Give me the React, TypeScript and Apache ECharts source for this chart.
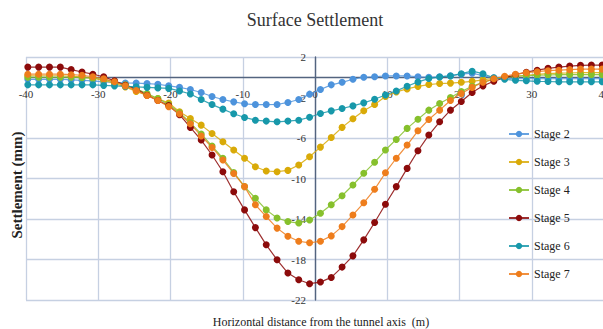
import React, { useEffect, useRef } from "react";
import * as echarts from "echarts";

// Horizontal distance from the tunnel axis (m)
const distance = [
  -39.75, -38.25, -36.75, -35.25, -33.75, -32.25, -30.75, -29.25, -27.75, -26.25,
  -24.75, -23.25, -21.75, -20.25, -18.75, -17.25, -15.75, -14.25, -12.75, -11.25,
  -9.75, -8.25, -6.75, -5.25, -3.75, -2.25, -0.75, 0.75, 2.25, 3.75,
  5.25, 6.75, 8.25, 9.75, 11.25, 12.75, 14.25, 15.75, 17.25, 18.75,
  20.25, 21.75, 23.25, 24.75, 26.25, 27.75, 29.25, 30.75, 32.25, 33.75,
  35.25, 36.75, 38.25, 39.75,
];

// Settlement (mm)
const stage2 = [
  -0.2, -0.2, -0.2, -0.2, -0.25, -0.3, -0.35, -0.45, -0.5, -0.56,
  -0.58, -0.62, -0.69, -0.85, -1.0, -1.21, -1.51, -1.9, -2.2, -2.43,
  -2.62, -2.7, -2.7, -2.69, -2.49, -2.2, -1.67, -1.21, -0.75, -0.5,
  -0.2, 0.0, 0.05, 0.13, 0.13, 0.13, 0.05, 0.0, 0.05, 0.15,
  0.3, 0.4, 0.15, -0.05, -0.1, -0.15, -0.15, -0.15, -0.15, -0.15,
  -0.15, -0.15, -0.15, -0.15,
];
const stage3 = [
  0.15, 0.15, 0.15, 0.15, 0.1, 0.05, -0.1, -0.3, -0.6, -0.95,
  -1.4, -1.77, -2.1, -2.55, -3.4, -4.07, -4.73, -5.55, -6.37, -7.19,
  -8.0, -8.84, -9.26, -9.33, -9.2, -8.67, -7.85, -6.9, -5.95, -4.95,
  -4.1, -3.3, -2.7, -1.9, -1.45, -1.15, -0.9, -0.72, -0.62, -0.58,
  -0.5, -0.4, -0.25, -0.1, 0.0, 0.1, 0.2, 0.28, 0.35, 0.4,
  0.42, 0.45, 0.45, 0.45,
];
const stage4 = [
  0.0, 0.0, 0.0, 0.0, 0.0, -0.05, -0.1, -0.2, -0.45, -0.75,
  -1.15, -1.6, -2.1, -2.7, -3.5, -4.5, -5.6, -6.8, -8.0, -9.4,
  -10.8, -11.95, -13.1, -13.9, -14.25, -14.4, -14.1, -13.43, -12.6, -11.7,
  -10.64, -9.49, -8.4, -7.19, -6.14, -5.05, -4.14, -3.25, -2.6, -2.0,
  -1.4, -0.9, -0.5, -0.2, 0.0, 0.1, 0.15, 0.2, 0.22, 0.25,
  0.25, 0.25, 0.25, 0.25,
];
const stage5 = [
  1.0, 1.0, 1.0, 1.0, 0.76, 0.52, 0.3, 0.05, -0.36, -0.8,
  -1.15, -1.77, -2.3, -2.8, -3.7, -4.96, -6.2, -7.68, -9.33, -11.3,
  -13.1, -14.85, -16.55, -18.03, -19.34, -20.0, -20.39, -20.23, -19.77, -18.75,
  -17.64, -16.06, -14.35, -12.54, -10.8, -9.0, -7.26, -5.71, -4.4, -3.25,
  -2.4, -1.5, -0.85, -0.4, -0.05, 0.25, 0.5, 0.7, 0.88, 1.0,
  1.1, 1.18, 1.2, 1.2,
];
const stage6 = [
  -0.75, -0.75, -0.75, -0.75, -0.75, -0.75, -0.75, -0.8, -0.85, -0.9,
  -0.95, -1.0, -1.05, -1.1, -1.35, -1.65, -2.2, -2.7, -3.15, -3.6,
  -3.97, -4.24, -4.33, -4.4, -4.33, -4.24, -3.95, -3.58, -3.32, -3.09,
  -2.83, -2.53, -2.17, -1.75, -1.35, -0.89, -0.46, -0.13, 0.03, 0.13,
  0.35, 0.6, 0.35, -0.05, -0.2, -0.3, -0.35, -0.4, -0.42, -0.45,
  -0.45, -0.45, -0.45, -0.45,
];
const stage7 = [
  0.3, 0.3, 0.3, 0.3, 0.25, 0.2, 0.05, -0.15, -0.45, -0.85,
  -1.3, -1.8, -2.3, -2.9, -3.6, -4.6, -5.8, -6.93, -8.18, -9.5,
  -10.8, -12.6, -13.76, -14.9, -15.7, -16.2, -16.35, -16.2, -15.67, -14.75,
  -13.6, -12.4, -11.07, -9.43, -8.0, -6.7, -5.29, -4.17, -3.25, -2.3,
  -1.6, -1.0, -0.5, -0.15, 0.1, 0.3, 0.45, 0.55, 0.65, 0.7,
  0.75, 0.8, 0.8, 0.8,
];

const stageNames = ["Stage 2", "Stage 3", "Stage 4", "Stage 5", "Stage 6", "Stage 7"];
const stageValues = [stage2, stage3, stage4, stage5, stage6, stage7];
const stageColors = ["#4d93dc", "#d9aa08", "#86c02c", "#8c0b0b", "#1798aa", "#ee7d1c"];

// Axis settings
const xMin = -40;
const xMax = 40;
const xStep = 10;
const yMin = -22;
const yMax = 2;
const yStep = 4;

const titleText = "Surface Settlement";
const xName = "Horizontal distance from the tunnel axis  (m)";
const yName = "Settlement (mm)";

const FONT = "'Liberation Serif', serif";
const GRID = "#c6d0e2";

export default function App() {
  const ref = useRef<HTMLDivElement>(null);

  useEffect(() => {
    if (!ref.current) return;
    const chart = echarts.init(ref.current, null, { renderer: "svg" });

    const gridLeft = 26;
    const gridTop = 57;
    const gridWidth = 578;
    const gridHeight = 243;
    // place the axes (line + labels) where the other axis is zero
    const xAxisOffset = -(gridHeight * (0 - yMin)) / (yMax - yMin);
    const yAxisOffset = -(gridWidth * (0 - xMin)) / (xMax - xMin);

    const series = stageNames.map((name, k) => ({
      type: "line",
      name,
      data: distance.map((x, i) => [x, stageValues[k][i]]),
      symbol: "circle",
      symbolSize: 7,
      showSymbol: true,
      itemStyle: { color: stageColors[k] },
      lineStyle: { color: stageColors[k], width: 1.2, opacity: 0.85 },
      emphasis: { disabled: true },
    }));

    // hide the -2 gridline, which the reference does not draw
    const yLineColors = [GRID, GRID, GRID, GRID, GRID, "rgba(0,0,0,0)", GRID];

    chart.setOption({
      animation: false,
      backgroundColor: "#ffffff",
      textStyle: { fontFamily: FONT },
      grid: {
        left: gridLeft,
        top: gridTop,
        width: gridWidth,
        height: gridHeight,
        containLabel: false,
        outerBoundsMode: "none",
      },
      xAxis: {
        type: "value",
        min: xMin,
        max: xMax,
        interval: xStep,
        position: "bottom",
        offset: xAxisOffset,
        axisLine: { show: true, onZero: false, lineStyle: { color: "#53647f", width: 1.4 } },
        axisTick: { show: false },
        axisLabel: { margin: 11, fontSize: 11, color: "#333", fontFamily: FONT },
        splitLine: { show: true, lineStyle: { color: GRID, width: 1.3 } },
      },
      yAxis: {
        type: "value",
        min: yMin,
        max: yMax,
        interval: yStep,
        position: "left",
        offset: yAxisOffset,
        axisLine: { show: true, onZero: false, lineStyle: { color: "#53647f", width: 1.4 } },
        axisTick: { show: false },
        axisLabel: { margin: 9, fontSize: 11, color: "#333", fontFamily: FONT },
        splitLine: { show: true, lineStyle: { color: yLineColors, width: 1.3 } },
      },
      legend: {
        orient: "vertical",
        left: 508,
        top: 128,
        padding: 0,
        itemWidth: 20,
        itemHeight: 8,
        itemGap: 16,
        data: stageNames,
        textStyle: { fontSize: 12, color: "#222", fontFamily: FONT },
      },
      graphic: [
        {
          type: "text",
          x: 315,
          y: 20,
          style: {
            text: titleText,
            fontFamily: FONT,
            fontSize: 18,
            fill: "#333",
            textAlign: "center",
            textVerticalAlign: "middle",
          },
        },
        {
          type: "text",
          x: 321,
          y: 322,
          style: {
            text: xName,
            fontFamily: FONT,
            fontSize: 12,
            fill: "#222",
            textAlign: "center",
            textVerticalAlign: "middle",
          },
        },
        {
          type: "text",
          x: 17,
          y: 185,
          rotation: Math.PI / 2,
          style: {
            text: yName,
            fontFamily: FONT,
            fontSize: 15,
            fontWeight: "bold",
            fill: "#222",
            textAlign: "center",
            textVerticalAlign: "middle",
          },
        },
      ],
      series,
    });

    return () => chart.dispose();
  }, []);

  return (
    <div
      ref={ref}
      style={{ position: "absolute", left: 0, top: 0, width: 603, height: 329 }}
    />
  );
}
